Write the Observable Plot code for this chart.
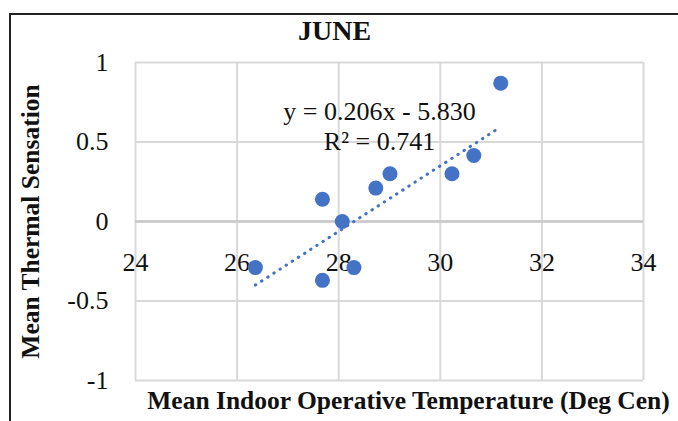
<!DOCTYPE html>
<html>
<head>
<meta charset="utf-8">
<script src="https://cdn.jsdelivr.net/npm/d3@7"></script>
<script src="https://cdn.jsdelivr.net/npm/@observablehq/plot@0.6"></script>
<style>
  html, body { margin: 0; padding: 0; background: #fff; }
  #wrap { position: relative; width: 678px; height: 421px; overflow: hidden; }
  #border { position: absolute; left: 9px; top: 13px; width: 720px; height: 460px;
            border: 2.5px solid #222; pointer-events: none; box-sizing: border-box; }
</style>
</head>
<body>
<div id="wrap"><div id="border"></div></div>
<script>
// Data
const title = "JUNE";
const xLabel = "Mean Indoor Operative Temperature (Deg Cen)";
const yLabel = "Mean Thermal Sensation";
const temperature = [26.36, 27.68, 27.68, 28.07, 28.30, 28.73, 29.01, 30.23, 30.66, 31.19];
const sensation   = [-0.29, -0.37, 0.14, 0.00, -0.29, 0.21, 0.30, 0.30, 0.415, 0.87];
const xTicks = [24, 26, 28, 30, 32, 34];
const yTicks = [-1, -0.5, 0, 0.5, 1];
const slope = 0.206;
const intercept = -5.830;
const rSquared = 0.741;

const points = temperature.map((t, i) => ({t, s: sensation[i]}));
const xExt = d3.extent(temperature);
const trend = xExt.map(t => ({t, s: slope * t + intercept}));
const eqText = `y = ${slope.toFixed(3)}x - ${Math.abs(intercept).toFixed(3)}\nR² = ${rSquared.toFixed(3)}`;

const blue = "#4472C4";
const font = "'Liberation Serif', 'Times New Roman', serif";

const chart = Plot.plot({
  width: 678,
  height: 421,
  marginLeft: 135,
  marginRight: 35,
  marginTop: 62,
  marginBottom: 41,
  style: {fontFamily: font, fontSize: "26px", color: "#111", background: "transparent"},
  x: {domain: [24, 34], axis: null},
  y: {domain: [-1, 1], axis: null},
  marks: [
    Plot.gridX(xTicks, {stroke: "#d9d9d9", strokeOpacity: 1, strokeWidth: 2}),
    Plot.gridY(yTicks, {stroke: "#d9d9d9", strokeOpacity: 1, strokeWidth: 2}),
    Plot.ruleY([0], {stroke: "#c9c9c9", strokeWidth: 2.5}),
    Plot.axisY(yTicks, {tickSize: 0, tickPadding: 27, tickFormat: d => String(d), label: null,
                         fontSize: 26, fill: "#111"}),
    Plot.text(xTicks, {x: d => d, y: () => 0, text: d => String(d), dy: 41,
                       fontSize: 26, fill: "#111", lineAnchor: "middle"}),
    Plot.line(trend, {x: "t", y: "s", stroke: blue, strokeWidth: 3,
                      strokeDasharray: "0.5 6.8", strokeLinecap: "round"}),
    Plot.dot(points, {x: "t", y: "s", r: 7.5, fill: blue, stroke: "none"}),
    Plot.text([eqText], {frameAnchor: "top-left", dx: 244, dy: 63, text: d => d,
                         textAnchor: "middle", lineAnchor: "middle", lineHeight: 1.15,
                         fontSize: 26, fill: "#111"}),
    Plot.text([title], {frameAnchor: "top", dx: -55, dy: -31, text: d => d,
                        fontSize: 28, fontWeight: "bold", fill: "#111", lineAnchor: "middle"}),
    Plot.text([yLabel], {frameAnchor: "left", dx: -105, dy: 0, rotate: -90, text: d => d,
                         fontSize: 25.5, fontWeight: "bold", fill: "#111", lineAnchor: "middle",
                         textAnchor: "middle"}),
    Plot.text([xLabel], {frameAnchor: "bottom", dx: 19, dy: 20, text: d => d,
                         fontSize: 25.5, fontWeight: "bold", fill: "#111", lineAnchor: "middle",
                         textAnchor: "middle"})
  ]
});
document.getElementById("wrap").prepend(chart);
</script>
</body>
</html>
